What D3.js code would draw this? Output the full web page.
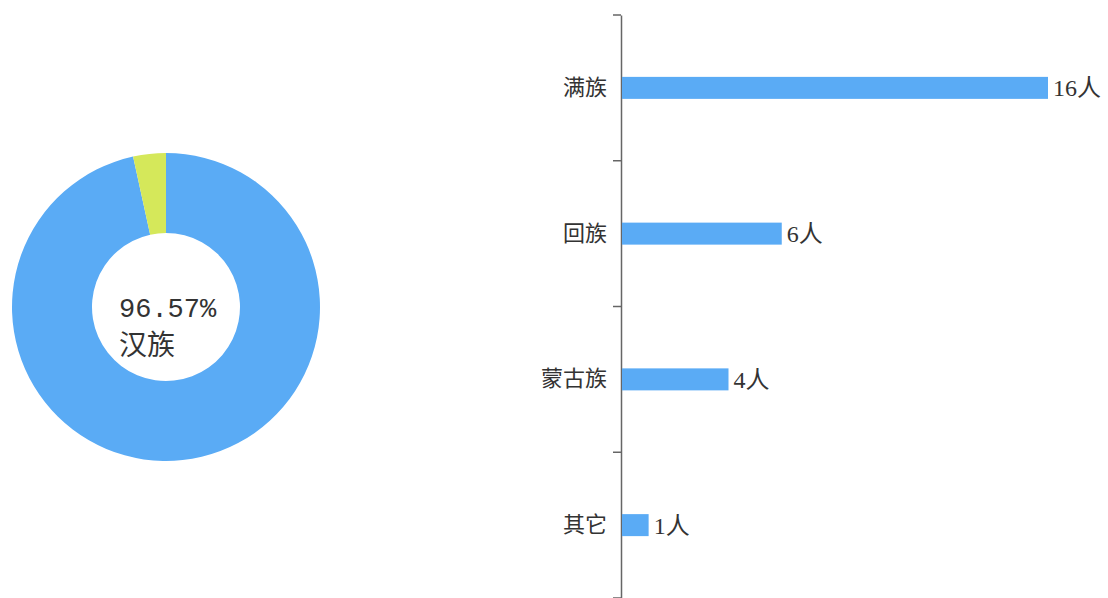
<!DOCTYPE html>
<html>
<head>
<meta charset="utf-8">
<script src="https://cdn.jsdelivr.net/npm/d3@7"></script>
<style>
  body { margin: 0; background: #fff; }
  svg text { fill: #333; }
</style>
</head>
<body>
<div id="chart"></div>
<script>
// donut data
var pieNames = ["汉族", "少数民族"];
var pieValues = [96.57, 3.43];
var pieColors = ["#5aabf5", "#d5e85a"];

// bar data
var barNames = ["满族", "回族", "蒙古族", "其它"];
var barValues = [16, 6, 4, 1];
var barUnit = "人";

var svgwidth = 1108, svgheight = 598;

var svg = d3.select("#chart").append("svg")
    .attr("width", svgwidth)
    .attr("height", svgheight);

// ---- donut ----
var pieData = pieNames.map(function(n, i){ return {name: n, value: pieValues[i], color: pieColors[i]}; });

var pie = d3.pie().sort(null).value(function(d){ return d.value; });
var arc = d3.arc().innerRadius(74).outerRadius(154);

var donut = svg.append("g")
    .attr("transform", "translate(166,307)");

donut.selectAll("path")
    .data(pie(pieData))
  .enter().append("path")
    .attr("d", arc)
    .style("fill", function(d){ return d.data.color; });

donut.append("text")
    .attr("x", -47)
    .attr("y", 10)
    .style("font-family", "'Liberation Mono', 'Noto Sans CJK SC', monospace")
    .style("font-size", "27px")
    .text(pieValues[0].toFixed(2) + "%");

donut.append("text")
    .attr("x", -47)
    .attr("y", 48)
    .style("font-family", "'Noto Sans CJK SC', sans-serif")
    .style("font-size", "28px")
    .text(pieNames[0]);

// ---- bars ----
var barmargin = {top: 15, left: 621, right: 61, bottom: 0};
var barwidth = svgwidth - barmargin.left - barmargin.right,
    barheight = svgheight - barmargin.top - barmargin.bottom;

var y = d3.scaleBand()
    .domain(barNames)
    .range([0, barheight]);

var x = d3.scaleLinear()
    .domain([0, d3.max(barValues)])
    .range([0, 426]);

var g = svg.append("g")
    .attr("transform", "translate(" + barmargin.left + "," + barmargin.top + ")");

// axis line + ticks at band edges
var yAxis = d3.axisLeft(y).tickSize(0).tickPadding(14);
var axisG = g.append("g").attr("class", "y axis").call(yAxis);
axisG.select(".domain").attr("stroke", "#666").attr("stroke-width", 1.5);
axisG.selectAll("text")
    .style("font-family", "'Noto Sans CJK SC', sans-serif")
    .style("font-size", "22px")
    .style("fill", "#333");

var edges = barNames.map(function(n){ return y(n); }).concat([barheight]);
g.selectAll("line.edge")
    .data(edges)
  .enter().append("line")
    .attr("class", "edge")
    .attr("x1", -8).attr("x2", 0)
    .attr("y1", function(d){ return d; })
    .attr("y2", function(d){ return d; })
    .attr("stroke", "#666")
    .attr("stroke-width", 1.5);

var barH = 22;
g.selectAll("rect.bar")
    .data(barNames)
  .enter().append("rect")
    .attr("class", "bar")
    .attr("x", 1)
    .attr("y", function(d){ return y(d) + y.bandwidth() / 2 - barH / 2; })
    .attr("width", function(d, i){ return x(barValues[i]); })
    .attr("height", barH)
    .style("fill", "#5aabf5");

g.selectAll("text.val")
    .data(barNames)
  .enter().append("text")
    .attr("class", "val")
    .attr("x", function(d, i){ return x(barValues[i]) + 6; })
    .attr("y", function(d){ return y(d) + y.bandwidth() / 2; })
    .attr("dy", "0.35em")
    .style("font-family", "'Liberation Serif', 'Noto Sans CJK SC', serif")
    .style("font-size", "24px")
    .text(function(d, i){ return barValues[i] + barUnit; });
</script>
</body>
</html>
